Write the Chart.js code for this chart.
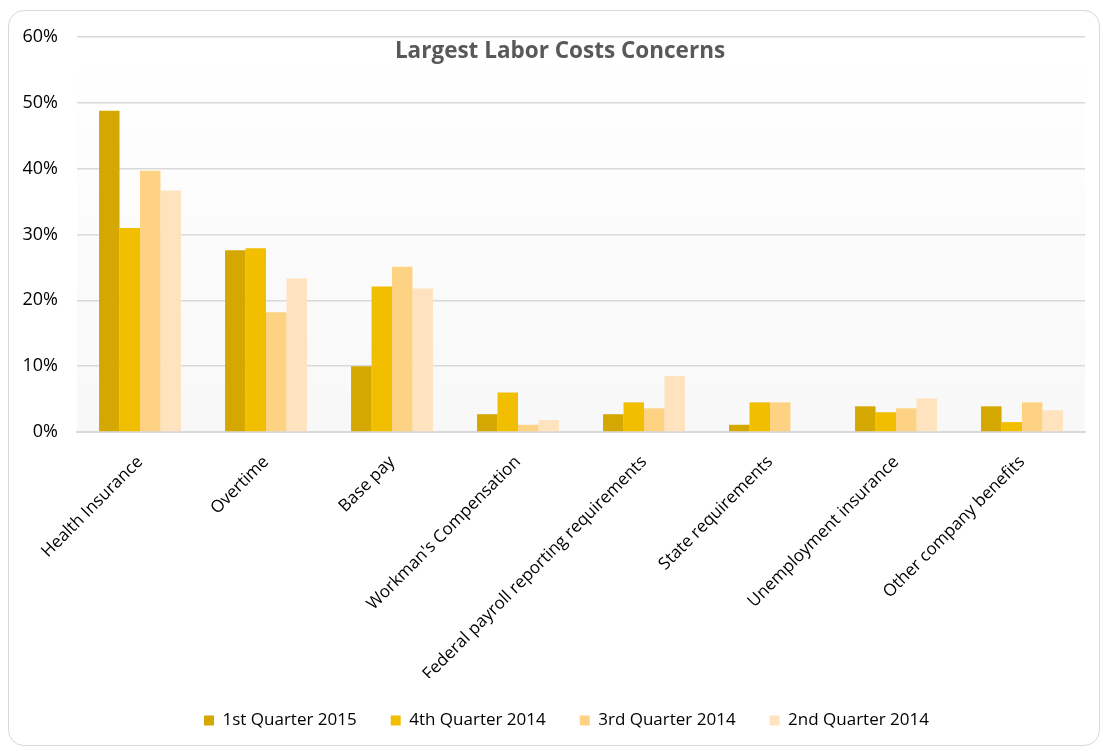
<!DOCTYPE html>
<html>
<head>
<meta charset="utf-8">
<script src="https://cdn.jsdelivr.net/npm/chart.js@4/dist/chart.umd.min.js"></script>
<style>
  html, body { margin: 0; padding: 0; background: #fff; }
  .frame {
    position: absolute; left: 8px; top: 10px; width: 1092px; height: 736px;
    border: 1.5px solid #d9d9d9; border-radius: 16px; box-sizing: border-box;
  }
  .wrap { position: absolute; left: 0; top: 0; width: 1103px; height: 751px; }
</style>
</head>
<body>
<div class="frame"></div>
<div class="wrap"><canvas id="mychart" width="1103" height="751"></canvas></div>
<script>
const categories = ['Health Insurance', 'Overtime', 'Base pay', "Workman's Compensation",
  'Federal payroll reporting requirements', 'State requirements',
  'Unemployment insurance', 'Other company benefits'];
const seriesNames = ['1st Quarter 2015', '4th Quarter 2014', '3rd Quarter 2014', '2nd Quarter 2014'];
const q1_2015 = [48.8, 27.6, 10.0, 2.7, 2.7, 1.1, 3.9, 3.9];
const q4_2014 = [31.0, 27.9, 22.1, 6.0, 4.5, 4.5, 3.0, 1.5];
const q3_2014 = [39.7, 18.2, 25.1, 1.1, 3.6, 4.5, 3.6, 4.5];
const q2_2014 = [36.7, 23.3, 21.8, 1.8, 8.5, 0, 5.1, 3.3];
const yTicks = [0, 10, 20, 30, 40, 50, 60];
const colors = ['#d4a800', '#f2be00', '#fdd283', '#fee3be'];

// faint plot background + title sitting inside the plot area
const decoPlugin = {
  id: 'deco',
  afterLayout(chart) {
    // the legend in the original sits a bit right of centre
    chart.legend.left += 48;
  },
  beforeDraw(chart) {
    const a = chart.chartArea, c = chart.ctx;
    const g = c.createLinearGradient(0, a.top, 0, a.bottom);
    g.addColorStop(0, '#ffffff');
    g.addColorStop(1, '#f8f8f8');
    c.save();
    c.fillStyle = g;
    c.fillRect(a.left, a.top + 30, a.right - a.left, a.bottom - a.top - 30);
    c.restore();
  },
  afterDraw(chart) {
    const c = chart.ctx;
    c.save();
    c.font = 'bold 22.5px "Open Sans", sans-serif';
    c.fillStyle = '#595959';
    c.textAlign = 'center';
    c.textBaseline = 'alphabetic';
    c.fillText('Largest Labor Costs Concerns', 560, 58);
    c.restore();
  }
};

const ctx = document.getElementById('mychart').getContext('2d');
const series = [q1_2015, q4_2014, q3_2014, q2_2014];
let myChart = new Chart(ctx, {
    type: 'bar',
    data: {
        labels: categories,
        datasets: series.map((d, i) => ({
            label: seriesNames[i],
            data: d,
            backgroundColor: colors[i],
            borderWidth: 0,
            categoryPercentage: 0.65,
            barPercentage: 1.0
        }))
    },
    options: {
        responsive: false,
        animation: false,
        layout: { padding: { top: 37, left: 0, right: 18, bottom: 12 } },
        plugins: {
            legend: {
                position: 'bottom',
                labels: {
                    boxWidth: 10, boxHeight: 10, padding: 34,
                    color: '#000',
                    font: { family: '"Open Sans", sans-serif', size: 17 }
                }
            },
            tooltip: { enabled: false }
        },
        scales: {
            x: {
                grid: { display: false },
                border: { color: '#d9d9d9', width: 2 },
                afterFit: s => { s.height = 246; },
                ticks: {
                    color: '#000', maxRotation: 45, minRotation: 45, autoSkip: false,
                    padding: 12,
                    font: { family: '"Open Sans", sans-serif', size: 17 }
                }
            },
            y: {
                min: 0, max: 60,
                afterBuildTicks: axis => { axis.ticks = yTicks.map(v => ({ value: v })); },
                afterFit: s => { s.width = 77; },
                grid: { color: '#d9d9d9', lineWidth: 1.5, drawTicks: false },
                border: { display: false },
                ticks: {
                    color: '#000', padding: 19,
                    font: { family: '"Open Sans", sans-serif', size: 18 },
                    callback: v => v + '%'
                }
            }
        }
    },
    plugins: [decoPlugin]
});
</script>
</body>
</html>
